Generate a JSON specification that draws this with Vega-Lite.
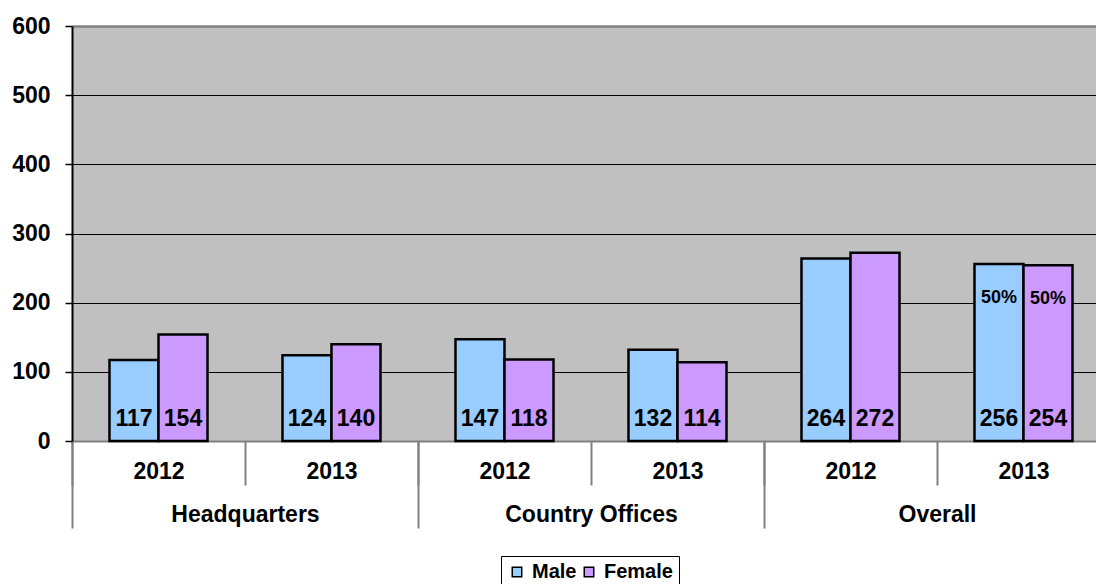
{
  "$schema": "https://vega.github.io/schema/vega-lite/v6.json",
  "width": 1038,
  "height": 415,
  "autosize": {"type": "none"},
  "padding": {"left": 72, "top": 26, "right": 0, "bottom": 143},
  "background": "white",
  "config": {
    "font": "Liberation Sans",
    "view": {"stroke": null, "fill": "#C0C0C0"}
  },
  "data": {
    "values": [
      {"group": "Headquarters", "year": "2012", "cat": "Headquarters|2012", "gender": "Male", "value": 117, "pct": null},
      {"group": "Headquarters", "year": "2012", "cat": "Headquarters|2012", "gender": "Female", "value": 154, "pct": null},
      {"group": "Headquarters", "year": "2013", "cat": "Headquarters|2013", "gender": "Male", "value": 124, "pct": null},
      {"group": "Headquarters", "year": "2013", "cat": "Headquarters|2013", "gender": "Female", "value": 140, "pct": null},
      {"group": "Country Offices", "year": "2012", "cat": "Country Offices|2012", "gender": "Male", "value": 147, "pct": null},
      {"group": "Country Offices", "year": "2012", "cat": "Country Offices|2012", "gender": "Female", "value": 118, "pct": null},
      {"group": "Country Offices", "year": "2013", "cat": "Country Offices|2013", "gender": "Male", "value": 132, "pct": null},
      {"group": "Country Offices", "year": "2013", "cat": "Country Offices|2013", "gender": "Female", "value": 114, "pct": null},
      {"group": "Overall", "year": "2012", "cat": "Overall|2012", "gender": "Male", "value": 264, "pct": null},
      {"group": "Overall", "year": "2012", "cat": "Overall|2012", "gender": "Female", "value": 272, "pct": null},
      {"group": "Overall", "year": "2013", "cat": "Overall|2013", "gender": "Male", "value": 256, "pct": "50%"},
      {"group": "Overall", "year": "2013", "cat": "Overall|2013", "gender": "Female", "value": 254, "pct": "50%"}
    ]
  },
  "layer": [
    {
      "encoding": {
        "x": {
          "field": "cat",
          "type": "nominal",
          "sort": ["Headquarters|2012", "Headquarters|2013", "Country Offices|2012", "Country Offices|2013", "Overall|2012", "Overall|2013"],
          "scale": {"paddingInner": 0, "paddingOuter": 0},
          "axis": {
            "title": null,
            "orient": "bottom",
            "labelExpr": "split(datum.label, '|')[1]",
            "labelAngle": 0,
            "tickBand": "extent",
            "tickSize": 44,
            "tickColor": "#808080",
            "tickWidth": 2,
            "domainColor": "#808080",
            "domainWidth": 2,
            "labelFontSize": 23,
            "labelFontWeight": "bold",
            "labelColor": "black",
            "labelPadding": -25,
            "labelLimit": 400
          }
        },
        "xOffset": {
          "field": "gender",
          "type": "nominal",
          "sort": ["Male", "Female"],
          "scale": {"paddingInner": 0, "paddingOuter": 0.765}
        }
      },
      "layer": [
        {
          "mark": {"type": "bar", "stroke": "black", "strokeWidth": 2.5},
          "encoding": {
            "y": {
              "field": "value",
              "type": "quantitative",
              "scale": {"domain": [0, 600], "nice": false},
              "axis": {
                "title": null,
                "values": [0, 100, 200, 300, 400, 500, 600],
                "labelFontSize": 23,
                "labelFontWeight": "bold",
                "labelColor": "black",
                "labelPadding": 15,
                "tickSize": 7,
                "tickColor": "black",
                "tickWidth": 1.5,
                "domainColor": "black",
                "domainWidth": 2,
                "grid": true,
                "gridColor": {"condition": {"test": "datum.value === 600 || datum.value === 0", "value": "#808080"}, "value": "black"},
                "gridWidth": {"condition": {"test": "datum.value === 600", "value": 2.5}, "value": 1}
              }
            },
            "color": {
              "field": "gender",
              "type": "nominal",
              "scale": {"domain": ["Male", "Female"], "range": ["#99CCFF", "#CC99FF"]},
              "legend": {
                "title": null,
                "orient": "none",
                "legendX": 429,
                "legendY": 530,
                "direction": "horizontal",
                "fillColor": "white",
                "strokeColor": "black",
                "padding": 6,
                "symbolType": "square",
                "symbolSize": 90,
                "symbolStrokeColor": "black",
                "symbolStrokeWidth": 1.5,
                "symbolOpacity": 1,
                "labelFontSize": 20,
                "labelFontWeight": "bold",
                "labelColor": "black",
                "labelOffset": 5,
                "columnPadding": 2
              }
            }
          }
        },
        {
          "mark": {"type": "text", "fontSize": 23, "fontWeight": "bold", "baseline": "alphabetic", "align": "center", "dy": -15, "color": "black"},
          "encoding": {
            "y": {"datum": 0},
            "text": {"field": "value", "type": "quantitative"}
          }
        },
        {
          "transform": [{"filter": "datum.pct != null"}],
          "mark": {"type": "text", "fontSize": 18, "fontWeight": "bold", "baseline": "alphabetic", "align": "center", "dy": 39, "color": "black"},
          "encoding": {
            "y": {"field": "value", "type": "quantitative"},
            "text": {"field": "pct", "type": "nominal"}
          }
        }
      ]
    },
    {
      "mark": {"type": "rule", "opacity": 0},
      "encoding": {
        "x": {
          "field": "group",
          "type": "nominal",
          "sort": ["Headquarters", "Country Offices", "Overall"],
          "scale": {"paddingInner": 0, "paddingOuter": 0},
          "axis": {
            "title": null,
            "orient": "bottom",
            "labelAngle": 0,
            "tickBand": "extent",
            "tickSize": 87,
            "tickColor": "#808080",
            "tickWidth": 2,
            "domain": false,
            "labelFontSize": 23,
            "labelFontWeight": "bold",
            "labelColor": "black",
            "labelPadding": -25,
            "labelLimit": 400
          }
        }
      }
    }
  ],
  "resolve": {"scale": {"x": "independent"}, "axis": {"x": "independent"}}
}
